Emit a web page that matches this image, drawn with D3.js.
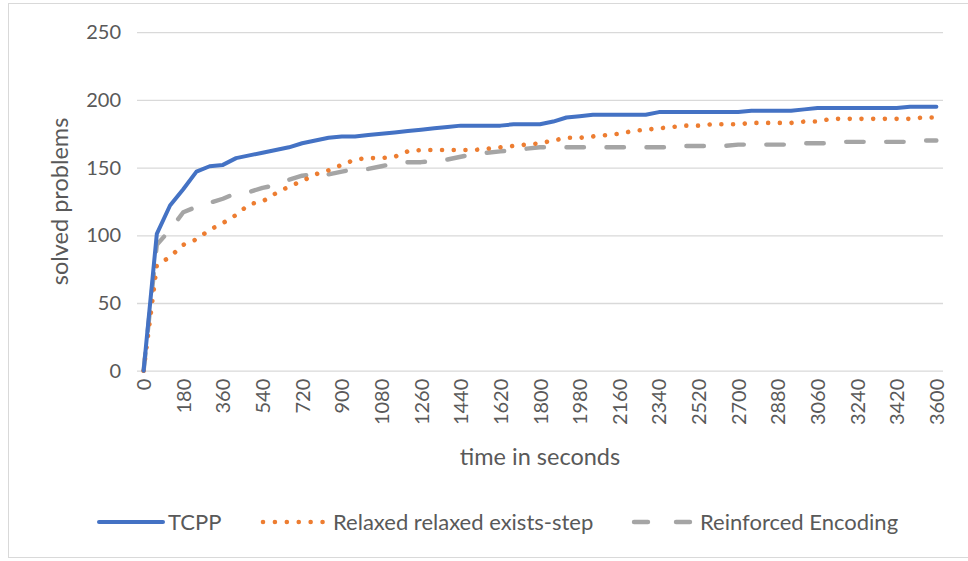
<!DOCTYPE html>
<html>
<head>
<meta charset="utf-8">
<script src="https://cdn.jsdelivr.net/npm/d3@7"></script>
<style>
  html, body { margin: 0; padding: 0; background: #fff; }
  svg { display: block; }
  text { font-family: Lato, "Open Sans", sans-serif; fill: #595959; }
</style>
</head>
<body>
<svg id="chart" width="968" height="561"></svg>
<script>
const categories = [0,60,120,180,240,300,360,420,480,540,600,660,720,780,840,900,960,1020,1080,1140,1200,1260,1320,1380,1440,1500,1560,1620,1680,1740,1800,1860,1920,1980,2040,2100,2160,2220,2280,2340,2400,2460,2520,2580,2640,2700,2760,2820,2880,2940,3000,3060,3120,3180,3240,3300,3360,3420,3480,3540,3600];
const tcpp = [0,101,122,134,147,151,152,157,159,161,163,165,168,170,172,173,173,174,175,176,177,178,179,180,181,181,181,181,182,182,182,184,187,188,189,189,189,189,189,191,191,191,191,191,191,191,192,192,192,192,193,194,194,194,194,194,194,194,195,195,195];
const relaxed = [0,78,84,93,97,104,109,115,123,125,131,136,140,145,148,152,156,157,157,158,162,163,163,163,163,163,164,165,166,167,168,170,172,172,173,174,175,177,178,179,180,181,181,182,182,182,183,183,183,183,184,184,186,186,186,186,186,186,186,187,187];
const reinforced = [0,93,104,117,121,124,127,131,132,135,137,141,144,145,145,147,149,149,151,153,154,154,155,156,158,160,161,162,163,164,165,165,165,165,165,165,165,165,165,165,165,166,166,166,166,167,167,167,167,167,168,168,168,169,169,169,169,169,169,170,170];
const xTickLabels = [0,180,360,540,720,900,1080,1260,1440,1620,1800,1980,2160,2340,2520,2700,2880,3060,3240,3420,3600];
const yTicks = [0,50,100,150,200,250];
const seriesNames = ["TCPP", "Relaxed relaxed exists-step", "Reinforced Encoding"];

const svg = d3.select("#chart");
const plot = { left: 137, right: 943, top: 32.2, bottom: 370.7 };

// chart border
svg.append("rect")
  .attr("x", 8.5).attr("y", 3.5)
  .attr("width", 980).attr("height", 554)
  .attr("fill", "#fff").attr("stroke", "#d9d9d9").attr("stroke-width", 1);

const x = d3.scalePoint().domain(categories).range([plot.left, plot.right]).padding(0.5);
const y = d3.scaleLinear().domain([0, 250]).range([plot.bottom, plot.top]);

// gridlines + y labels
const yAxis = d3.axisLeft(y).tickValues(yTicks).tickSize(-(plot.right - plot.left)).tickPadding(16).tickFormat(d3.format("d"));
const gy = svg.append("g").attr("transform", `translate(${plot.left},0)`).call(yAxis);
gy.select(".domain").remove();
gy.selectAll(".tick line").attr("stroke", "#d9d9d9").attr("stroke-width", 1.3);
gy.selectAll(".tick text").attr("font-size", 20).attr("fill", "#595959")
  .style("font-family", "Lato, sans-serif");

// x labels
const xAxis = d3.axisBottom(x).tickValues(xTickLabels).tickSize(0).tickFormat(d3.format("d"));
const gx = svg.append("g").attr("transform", `translate(0,${plot.bottom})`).call(xAxis);
gx.select(".domain").remove();
gx.selectAll(".tick text")
  .attr("font-size", 20).attr("fill", "#595959")
  .style("font-family", "Lato, sans-serif")
  .attr("text-anchor", "end")
  .attr("transform", "translate(0,8) rotate(-90)")
  .attr("x", 0).attr("y", 0).attr("dy", "0.35em");

// axis titles
svg.append("text").attr("x", (plot.left + plot.right) / 2).attr("y", 465)
  .attr("text-anchor", "middle").attr("font-size", 23.5).text("time in seconds");
svg.append("text").attr("transform", `translate(68,${(plot.top + plot.bottom) / 2}) rotate(-90)`)
  .attr("text-anchor", "middle").attr("font-size", 23.5).text("solved problems");

const styles = [
  { data: tcpp, color: "#4472c4", dash: null, w: 4 },
  { data: relaxed, color: "#ed7d31", dash: "0.01 11.7", w: 4.6 },
  { data: reinforced, color: "#a5a5a5", dash: "17.5 22.5", w: 4.4 }
];
const line = d3.line().x((d, i) => x(categories[i])).y(d => y(d));

// draw in reverse so TCPP on top
[2, 1, 0].forEach(k => {
  const s = styles[k];
  svg.append("path").datum(s.data)
    .attr("d", line)
    .attr("fill", "none")
    .attr("stroke", s.color)
    .attr("stroke-width", s.w)
    .attr("stroke-linecap", "round")
    .attr("stroke-linejoin", "round")
    .attr("stroke-dasharray", s.dash);
});

// legend
const legendItems = [
  { x1: 99, x2: 163, tx: 168, dash: null },
  { x1: 263, x2: 323, tx: 333, dash: "0.01 11.9" },
  { x1: 634, x2: 692, tx: 700, dash: "14 28" }
];
const ly = 522;
legendItems.forEach((li, k) => {
  const s = styles[k];
  svg.append("line").attr("x1", li.x1).attr("x2", li.x2).attr("y1", ly).attr("y2", ly)
    .attr("stroke", s.color).attr("stroke-width", s.w)
    .attr("stroke-linecap", "round")
    .attr("stroke-dasharray", li.dash);
  svg.append("text").attr("x", li.tx).attr("y", ly).attr("dy", "0.35em")
    .attr("font-size", 22).text(seriesNames[k]);
});
</script>
</body>
</html>
